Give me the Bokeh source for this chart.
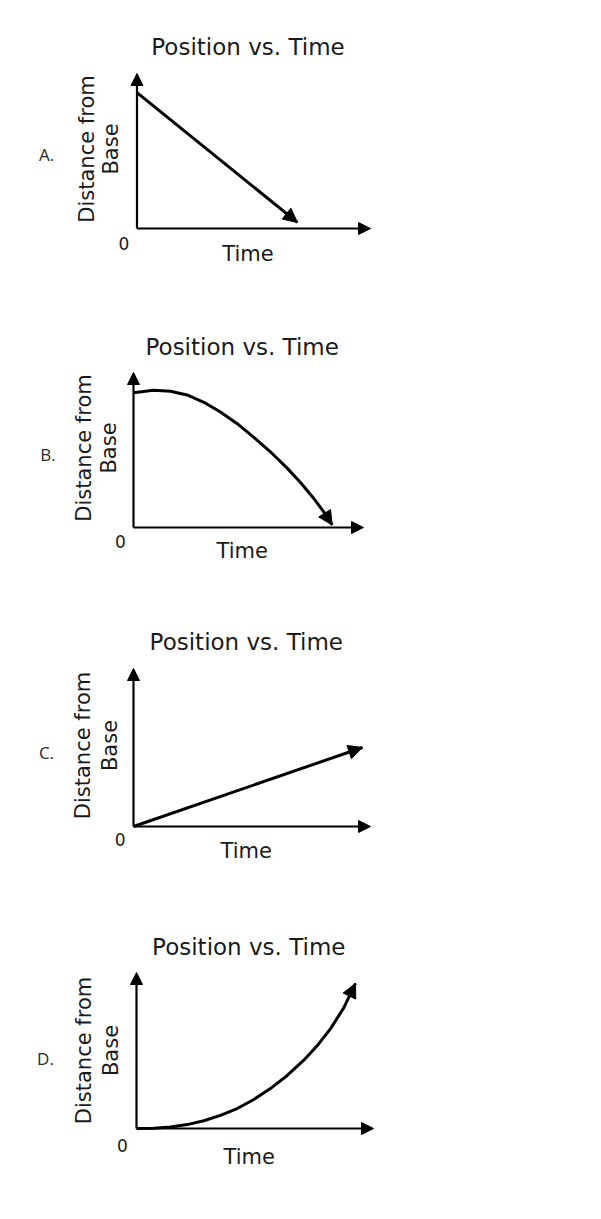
import math
from bokeh.plotting import figure
from bokeh.models import Range1d, Arrow, NormalHead
from bokeh.layouts import column
from bokeh.core.properties import value
from bokeh.embed import file_html
from bokeh.resources import INLINE

# ---------------- data (axis units: 0..10 = origin..arrow tip) ----------------
title_text = "Position vs. Time"
x_label = "Time"
y_label_1 = "Distance from"
y_label_2 = "Base"
origin_label = "0"
letters = ["A.", "B.", "C.", "D."]

time_a = [0.0, 6.87]
dist_a = [8.77, 0.39]

time_b = [0.00, 0.87, 1.61, 2.33, 3.06, 3.78, 4.51, 5.22, 6.04, 6.68, 7.26, 7.83, 8.27, 8.64]
dist_b = [8.70, 8.86, 8.79, 8.55, 8.08, 7.45, 6.70, 5.83, 4.76, 3.83, 2.90, 1.89, 1.01, 0.16]

time_c = [0.0, 9.66]
dist_c = [0.0, 5.00]

time_d = [0.00, 0.73, 1.43, 2.14, 2.84, 3.54, 4.25, 4.95, 5.65, 6.36, 7.06, 7.62, 8.19, 8.75, 9.24]
dist_d = [0.00, 0.02, 0.09, 0.25, 0.50, 0.84, 1.28, 1.86, 2.56, 3.40, 4.38, 5.30, 6.40, 7.75, 9.30]

axis_max = 10.0

# ---------------- layout (page pixels, text positions are ink centres) ----------------
W, H, LEFT = 585, 300, 0
panels = [
    dict(series=(time_a, dist_a), geom=(136.5, 228, 370, 73, 0),
         title=(247.5, 46.7), time=(247.5, 253.7), zero=(123.3, 242.5),
         yl1=(86.7, 148.5), yl2=(110.8, 148.5), letter=(46, 154)),
    dict(series=(time_b, dist_b), geom=(133, 527, 363, 372, 300),
         title=(241.7, 346.8), time=(241.7, 550.8), zero=(120, 540.5),
         yl1=(83.3, 447.5), yl2=(108.3, 447.5), letter=(47.5, 454)),
    dict(series=(time_c, dist_c), geom=(133, 826, 370, 668, 600),
         title=(245.8, 641.8), time=(245.8, 850.5), zero=(119.7, 839.2),
         yl1=(82.2, 745), yl2=(109.2, 745), letter=(46, 752)),
    dict(series=(time_d, dist_d), geom=(136, 1128, 373, 972, 900),
         title=(248.3, 946.8), time=(248.7, 1156.3), zero=(122, 1144.7),
         yl1=(83.8, 1050), yl2=(110.8, 1050), letter=(45, 1058)),
]

FONT = value("DejaVu Sans")
TXT = "#1a1a1a"


def build(letter, cfg):
    t, d = cfg["series"]
    ox, oy, xt, yt, top = cfg["geom"]
    sx = (xt - ox) / axis_max
    sy = (oy - yt) / axis_max

    def P(pt):
        return (pt[0] - ox) / sx, (oy - pt[1]) / sy

    p = figure(width=W, height=H, output_backend="svg", toolbar_location=None,
               x_axis_location=None, y_axis_location=None, min_border=0,
               x_range=Range1d((LEFT - ox) / sx, (LEFT + W - ox) / sx),
               y_range=Range1d((oy - (top + H)) / sy, (oy - top) / sy))
    p.grid.grid_line_color = None
    p.outline_line_color = None
    p.background_fill_color = "white"
    p.border_fill_color = "white"

    # axes as arrows
    for xe, ye in ((0, axis_max), (axis_max, 0)):
        p.add_layout(Arrow(end=NormalHead(size=12, fill_color="black", line_color="black", line_width=1),
                           x_start=0, y_start=0, x_end=xe, y_end=ye,
                           line_width=2.2, line_color="black"))

    # series
    p.line(t, d, line_width=3, line_color="black", line_join="round", line_cap="butt")
    p.add_layout(Arrow(end=NormalHead(size=14, fill_color="black", line_color="black", line_width=1),
                       x_start=t[-2], y_start=d[-2], x_end=t[-1], y_end=d[-1],
                       line_alpha=0))

    def txt(pt, s, size, angle=0.0, font=FONT, color=TXT):
        x, y = P(pt)
        p.text(x=[x], y=[y], text=[s], angle=angle, text_font=font, text_font_size=size,
               text_align="center", text_baseline="middle", text_color=color)

    txt(cfg["title"], title_text, "23px")
    txt(cfg["time"], x_label, "21px")
    txt(cfg["zero"], origin_label, "17px")
    txt(cfg["yl1"], y_label_1, "21px", angle=math.pi / 2)
    txt(cfg["yl2"], y_label_2, "21px", angle=math.pi / 2)
    txt(cfg["letter"], letter, "17px", font=value("Open Sans"), color="#2a2a2a")
    return p


figs = [build(letters[i], cfg) for i, cfg in enumerate(panels)]
layout = column(*figs, spacing=0)
open("out.html", "w").write(file_html(layout, INLINE))
